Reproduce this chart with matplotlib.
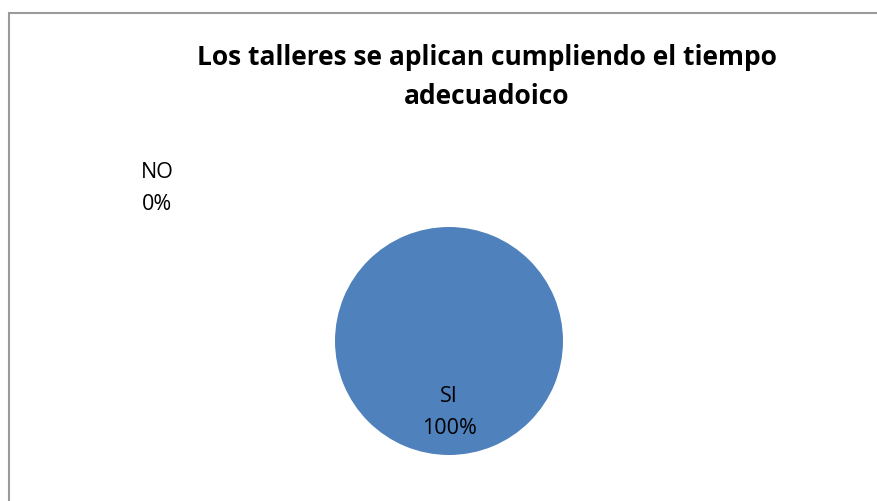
import matplotlib.pyplot as plt
from matplotlib.patches import Rectangle

# data
categories = ["SI", "NO"]
values = [100, 0]
colors = ["#4F81BD", "#C0504D"]
title = "Los talleres se aplican cumpliendo el tiempo\nadecuadoico"

plt.rcParams['font.family'] = ['Open Sans', 'DejaVu Sans']

fig = plt.figure(figsize=(8.78, 5.01), dpi=100)

# chart border (left and top visible)
fig.patches.append(Rectangle((9 / 878, -0.1), 1.2, (501 - 13) / 501 + 0.1,
                             transform=fig.transFigure, fill=False,
                             edgecolor="#9a9a9a", linewidth=1.5))

fig.text(487 / 878, 1 - 77 / 501, title, ha="center", va="center",
         fontsize=19, fontweight="bold", linespacing=1.6)

ax = fig.add_axes([(449 - 114) / 878, (501 - 455) / 501, 228 / 878, 228 / 501])
total = sum(values)
ax.pie(values, colors=colors, startangle=90, counterclock=False, radius=1)
ax.set_xlim(-1, 1)
ax.set_ylim(-1, 1)
ax.set_aspect("equal")

# data labels, Excel style
label_pos = {"SI": (0, -0.63), "NO": (-2.56, 1.34)}
for cat, val in zip(categories, values):
    x, y = label_pos[cat]
    ax.text(x, y, f"{cat}\n{val / total:.0%}", ha="center", va="center",
            fontsize=15.5, linespacing=1.7)

fig.savefig("out.png", dpi=100)
